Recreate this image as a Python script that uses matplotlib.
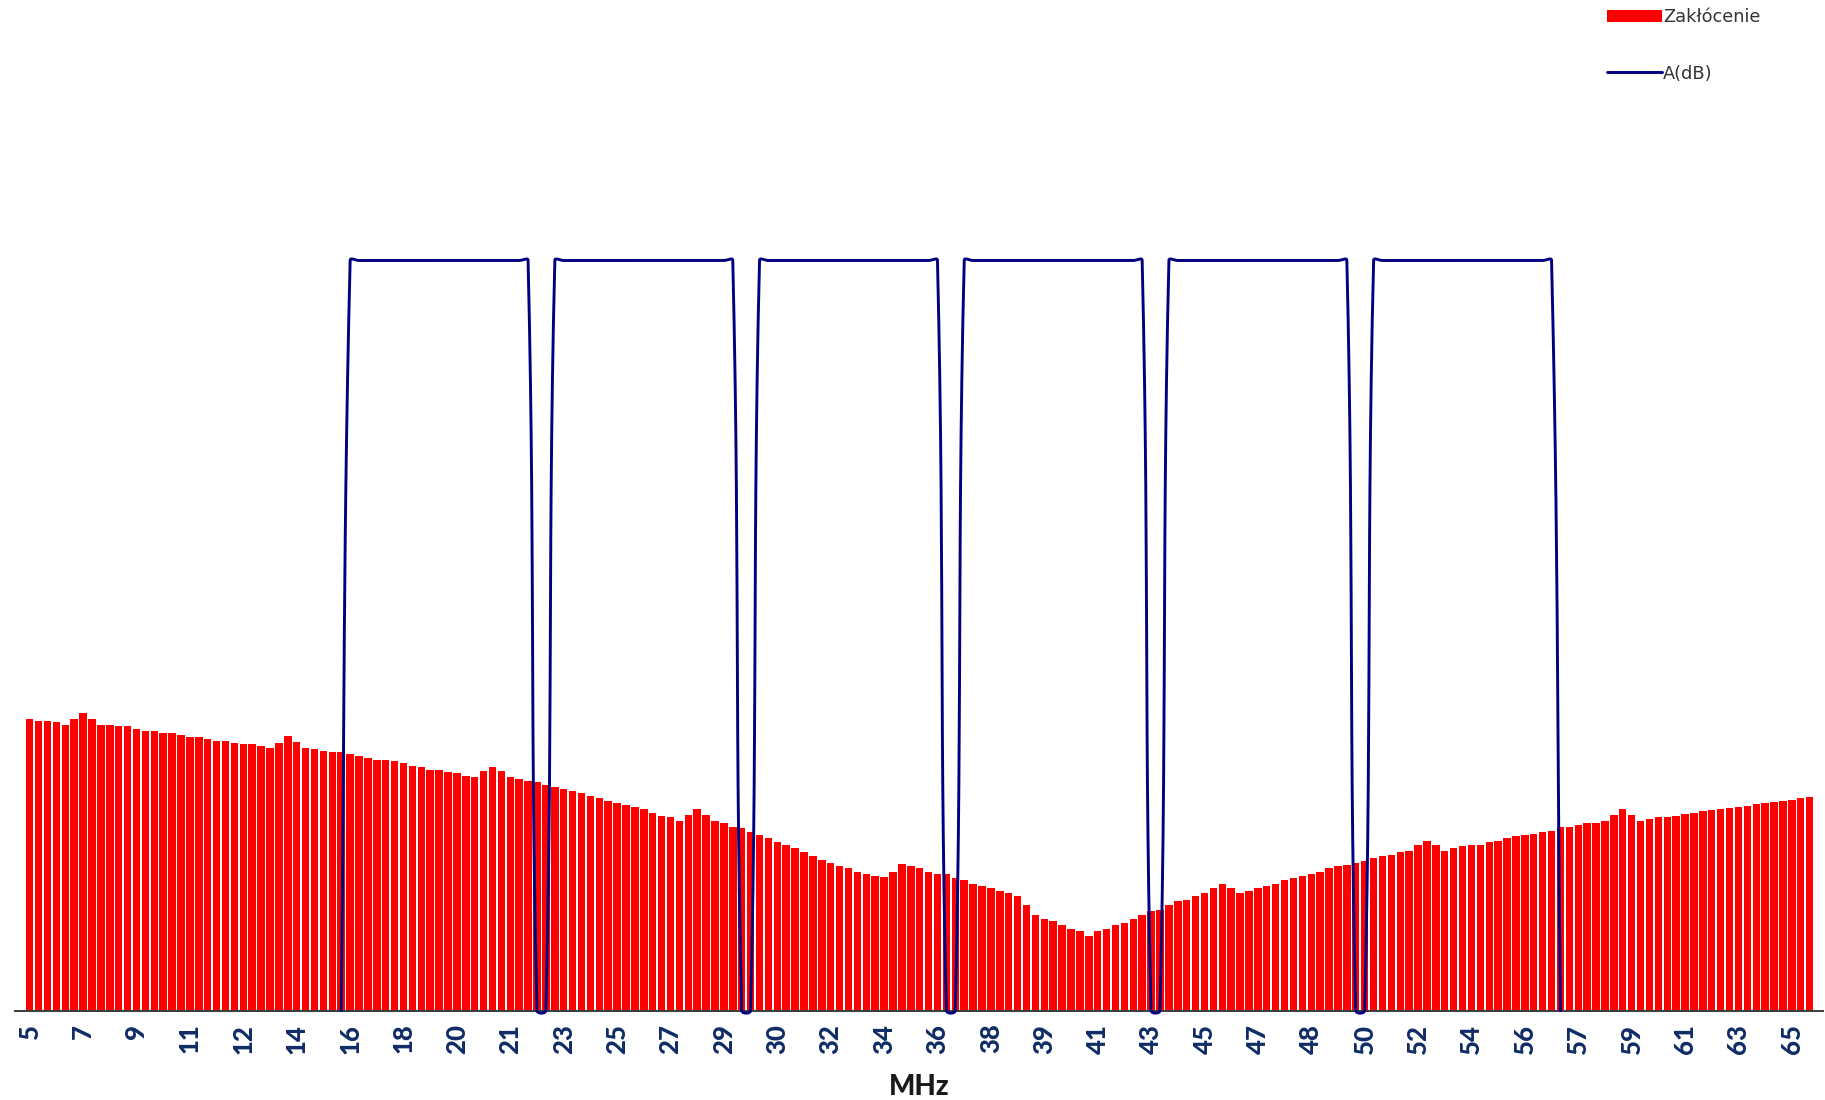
import numpy as np
import matplotlib
matplotlib.use("Agg")
import matplotlib.pyplot as plt

# Level floor of the chart (dB); bars start here and the filter stopband sits here
FLOOR = -75.0

# Interference level per frequency bin (dB)
zaklocenie_db = [
    -45.8, -46.0, -46.0, -46.1, -46.4, -45.8, -45.2, -45.8, -46.4, -46.4,
    -46.5, -46.5, -46.8, -47.0, -47.0, -47.2, -47.2, -47.4, -47.6, -47.6,
    -47.8, -48.0, -48.0, -48.2, -48.3, -48.3, -48.5, -48.7, -48.2, -47.5,
    -48.1, -48.7, -48.8, -49.0, -49.1, -49.1, -49.3, -49.5, -49.7, -49.9,
    -49.9, -50.0, -50.2, -50.5, -50.6, -50.9, -50.9, -51.1, -51.2, -51.5,
    -51.6, -51.0, -50.6, -51.0, -51.6, -51.8, -52.0, -52.1, -52.4, -52.6,
    -52.8, -53.0, -53.2, -53.5, -53.7, -54.0, -54.2, -54.4, -54.6, -54.8,
    -55.2, -55.5, -55.6, -56.0, -55.4, -54.8, -55.4, -56.0, -56.2, -56.6,
    -56.7, -57.1, -57.4, -57.7, -58.1, -58.4, -58.7, -59.1, -59.5, -59.9,
    -60.2, -60.5, -60.7, -61.1, -61.3, -61.5, -61.6, -61.1, -60.3, -60.5,
    -60.7, -61.1, -61.3, -61.3, -61.7, -61.9, -62.3, -62.5, -62.7, -63.0,
    -63.2, -63.5, -64.4, -65.4, -65.8, -66.1, -66.4, -66.8, -67.1, -67.5,
    -67.1, -66.8, -66.4, -66.2, -65.8, -65.4, -65.0, -64.9, -64.4, -64.1,
    -63.9, -63.5, -63.2, -62.7, -62.3, -62.7, -63.2, -63.0, -62.7, -62.5,
    -62.3, -61.9, -61.7, -61.5, -61.3, -61.1, -60.7, -60.5, -60.4, -60.2,
    -60.0, -59.7, -59.5, -59.4, -59.1, -59.0, -58.4, -58.0, -58.4, -59.0,
    -58.7, -58.5, -58.4, -58.4, -58.1, -58.0, -57.7, -57.5, -57.4, -57.3,
    -57.1, -57.0, -56.6, -56.6, -56.4, -56.2, -56.2, -56.0, -55.4, -54.8,
    -55.4, -56.0, -55.8, -55.6, -55.6, -55.5, -55.3, -55.2, -55.0, -54.9,
    -54.8, -54.7, -54.6, -54.5, -54.3, -54.2, -54.1, -54.0, -53.9, -53.7,
    -53.6,
]

# Filter response A(dB): six passbands, each separated by a short stopband
nan = float("nan")
a_db = ([nan] * 35 + [FLOOR]
        + [0.0] * 21 + [FLOOR] * 2
        + [0.0] * 21 + [FLOOR] * 2
        + [0.0] * 21 + [FLOOR] * 2
        + [0.0] * 21 + [FLOOR] * 2
        + [0.0] * 21 + [FLOOR] * 2
        + [0.0] * 21 + [FLOOR]
        + [nan] * 28)

# Frequency labels (MHz), one every LABEL_STEP bins
freq_labels = ["5", "7", "9", "11", "12", "14", "16", "18", "20", "21",
               "23", "25", "27", "29", "30", "32", "34", "36", "38", "39",
               "41", "43", "45", "47", "48", "50", "52", "54", "56", "57",
               "59", "61", "63", "65"]
LABEL_STEP = 6

RED = "#ff0000"
NAVY = "#000080"
TICK_COLOR = "#0f2c66"


def smooth_curve(ax, xs, ys, tension=0.4, samples=14):
    """Smoothed line through the points, built from cubic Bezier segments
    whose control points are weighted by the chord lengths in screen space."""
    pts = ax.transData.transform(np.column_stack([xs, ys]))
    m = len(pts)
    out = []
    for i in range(m - 1):
        p0 = pts[i - 1] if i > 0 else pts[i]
        p1, p2 = pts[i], pts[i + 1]
        p3 = pts[i + 2] if i + 2 < m else pts[i + 1]
        d0 = np.hypot(*(p1 - p0))
        d1 = np.hypot(*(p2 - p1))
        d2 = np.hypot(*(p3 - p2))
        c1 = p1 + (p2 - p0) * (d1 / (d0 + d1)) * tension if d0 + d1 > 0 else p1
        c2 = p2 - (p3 - p1) * (d1 / (d1 + d2)) * tension if d1 + d2 > 0 else p2
        t = np.linspace(0, 1, samples, endpoint=(i == m - 2))[:, None]
        seg = ((1 - t) ** 3 * p1 + 3 * (1 - t) ** 2 * t * c1
               + 3 * (1 - t) * t ** 2 * c2 + t ** 3 * p2)
        out.append(seg)
    out = np.vstack(out)
    return ax.transData.inverted().transform(out).T


W, H = 1825, 1100
fig = plt.figure(figsize=(W / 100, H / 100), dpi=100)
ax = fig.add_axes([15 / W, 89.5 / H, 1808 / W, 820 / H])

x = np.arange(len(zaklocenie_db))
level = np.array(zaklocenie_db)
bars = ax.bar(x, level - FLOOR, bottom=FLOOR, width=0.84, color=RED,
              linewidth=0, label="Zakłócenie", zorder=1)

ax.set_xlim(-1.65, 201.5)
ax.set_ylim(FLOOR, 7)

a = np.array(a_db)
valid = ~np.isnan(a)
sx, sy = smooth_curve(ax, x[valid], a[valid])
line, = ax.plot(sx, sy, color=NAVY, lw=2.1, solid_joinstyle="round",
                solid_capstyle="round", label="A(dB)", zorder=3, clip_on=False)

for side in ("left", "right", "top"):
    ax.spines[side].set_visible(False)
ax.spines["bottom"].set_color("#3c3c3c")
ax.spines["bottom"].set_linewidth(1.4)
ax.spines["bottom"].set_zorder(2.5)
ax.set_yticks([])

tick_pos = x[::LABEL_STEP][:len(freq_labels)]
ax.set_xticks(tick_pos)
ax.set_xticklabels(freq_labels, rotation=90, fontfamily="Lato",
                   fontweight=900, fontsize=18.5, color=TICK_COLOR)
ax.tick_params(axis="x", length=0, pad=9.5)

ax.set_xlabel("MHz", fontfamily="Lato", fontweight=900, fontsize=20,
              color="#1a1a1a")
ax.xaxis.set_label_coords(0.5, -0.078)

fig.legend(handles=[bars, line], labels=["Zakłócenie", "A(dB)"],
           loc="upper left", bbox_to_anchor=(1607 / W, 1 - 8 / H),
           frameon=False, prop={"family": "DejaVu Sans", "size": 12.8},
           labelcolor="#333333", handlelength=3.1, handletextpad=0.05,
           labelspacing=2.17, borderpad=0, borderaxespad=0)

fig.savefig("out.png", dpi=100, facecolor="white")
